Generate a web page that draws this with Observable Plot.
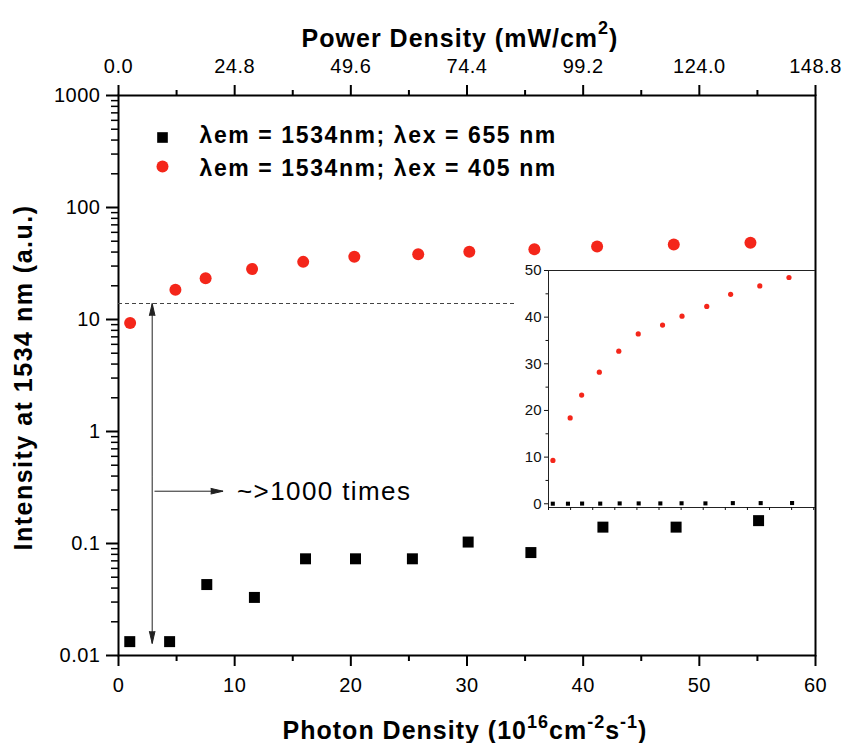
<!DOCTYPE html>
<html><head><meta charset="utf-8">
<script src="https://cdn.jsdelivr.net/npm/d3@7"></script>
<script src="https://cdn.jsdelivr.net/npm/@observablehq/plot@0.6"></script>
<style>
html,body{margin:0;padding:0;background:#fff;}
#chart{position:relative;width:842px;height:743px;overflow:hidden;}
#chart svg{position:absolute;left:0;top:0;}
</style></head><body><div id="chart"></div>
<script>
// ---------- data ----------
const photon655 = [0.97, 4.4, 7.6, 11.7, 16.1, 20.4, 25.3, 30.1, 35.5, 41.7, 48.0, 55.1];
const intensity655 = [0.0133, 0.0133, 0.043, 0.033, 0.073, 0.073, 0.073, 0.103, 0.083, 0.14, 0.14, 0.16];
const photon405 = [1.0, 4.9, 7.5, 11.5, 15.9, 20.3, 25.8, 30.2, 35.8, 41.2, 47.8, 54.4];
const intensity405 = [9.3, 18.4, 23.3, 28.2, 32.7, 36.4, 38.3, 40.2, 42.3, 44.9, 46.7, 48.5];
const seriesLabels = ["λem = 1534nm; λex = 655 nm", "λem = 1534nm; λex = 405 nm"];

const xTicks = [0, 10, 20, 30, 40, 50, 60];
const xMinorTicks = [5, 15, 25, 35, 45, 55];
const topTickLabels = ["0.0", "24.8", "49.6", "74.4", "99.2", "124.0", "148.8"];
const yTicks = [0.01, 0.1, 1, 10, 100, 1000];
const yTickLabels = ["0.01", "0.1", "1", "10", "100", "1000"];
const yMinorTicks = yTicks.slice(0, -1).flatMap(t => [2, 3, 4, 5, 6, 7, 8, 9].map(m => +(t * m).toPrecision(3)));
const insetYTicks = [0, 10, 20, 30, 40, 50];
const insetYMinorTicks = [5, 15, 25, 35, 45];
const insetXTicks = [0, 5, 10, 15, 20, 25, 30, 35, 40, 45, 50, 55, 60];

const topTitleParts = [["Power Density (mW/cm", 0], ["2", 1], [")", 0]];
const bottomTitleParts = [["Photon Density (10", 0], ["16", 1], ["cm", 0], ["-2", 1], ["s", 0], ["-1", 1], [")", 0]];
const leftTitle = "Intensity at 1534 nm (a.u.)";
const noteText = "~>1000 times";

// annotation values (data units)
const threshold = [{y: 13.9, x1: 0, x2: 34.2}];
const doubleArrow = [{x1: 2.9, y1: 0.4, x2: 2.9, y2: 13.9}, {x1: 2.9, y1: 0.4, x2: 2.9, y2: 0.0128}];
const noteArrow = [{x1: 3.1, y1: 0.293, x2: 9.0, y2: 0.293}];
const notePos = [{x: 10.2, y: 0.293, label: noteText}];

// ---------- tables ----------
const data655 = photon655.map((x, i) => ({x, y: intensity655[i]}));
const data405 = photon405.map((x, i) => ({x, y: intensity405[i]}));

const FONT = "'Liberation Sans', Arial, Helvetica, sans-serif";
const RED = "#f4261a";
const joinParts = p => p.map(d => d[0]).join("");
const topTitle = joinParts(topTitleParts);
const bottomTitle = joinParts(bottomTitleParts);

const main = Plot.plot({
  width: 842, height: 743,
  marginLeft: 118, marginRight: 27, marginTop: 95, marginBottom: 88,
  x: {domain: [0, 60]},
  y: {type: "log", domain: [0.01, 1000]},
  style: {fontFamily: FONT, fontSize: "20px", background: "white", color: "black"},
  marks: [
    // axes
    Plot.axisX({anchor: "bottom", ticks: xTicks, tickSize: 11, tickPadding: 11, strokeWidth: 2, label: null, fontSize: 20,
      tickFormat: d => String(d)}),
    Plot.axisX({anchor: "bottom", ticks: xMinorTicks, tickSize: 6, strokeWidth: 2, label: null, tickFormat: () => ""}),
    Plot.axisX({anchor: "top", ticks: xTicks, tickSize: 11, tickPadding: 12, strokeWidth: 2, label: null, fontSize: 20,
      tickFormat: d => topTickLabels[xTicks.indexOf(d)]}),
    Plot.axisX({anchor: "top", ticks: xMinorTicks, tickSize: 6, strokeWidth: 2, label: null, tickFormat: () => ""}),
    Plot.axisY({anchor: "left", ticks: yTicks, tickSize: 12, tickPadding: 6, strokeWidth: 2, label: null, fontSize: 20,
      tickFormat: d => yTickLabels[yTicks.indexOf(d)]}),
    Plot.axisY({anchor: "left", ticks: yMinorTicks, tickSize: 7, strokeWidth: 1.5, label: null, tickFormat: () => ""}),
    Plot.frame({strokeWidth: 2, stroke: "black"}),

    // annotations
    Plot.ruleY(threshold, {y: "y", x1: "x1", x2: "x2", stroke: "#444", strokeWidth: 1.2, strokeDasharray: "4,3"}),
    Plot.arrow(doubleArrow, {x1: "x1", y1: "y1", x2: "x2", y2: "y2", stroke: "#222", fill: "#222", strokeWidth: 1,
      headLength: 19, headAngle: 26, strokeLinecap: "butt"}),
    Plot.arrow(noteArrow, {x1: "x1", y1: "y1", x2: "x2", y2: "y2", stroke: "#222", fill: "#222", strokeWidth: 1,
      headLength: 19, headAngle: 26, strokeLinecap: "butt"}),
    Plot.text(notePos, {x: "x", y: "y", text: "label", textAnchor: "start", lineAnchor: "middle", fontSize: 26}),

    // data
    Plot.dot(data655, {x: "x", y: "y", symbol: "square", r: 6.2, fill: "black"}),
    Plot.dot(data405, {x: "x", y: "y", r: 6, fill: RED}),

    // legend
    Plot.dot([seriesLabels[0]], {frameAnchor: "top-left", dx: 44, dy: 42, symbol: "square", r: 6, fill: "black"}),
    Plot.dot([seriesLabels[1]], {frameAnchor: "top-left", dx: 44, dy: 71, r: 6, fill: RED}),
    Plot.text([seriesLabels[0]], {frameAnchor: "top-left", dx: 81, dy: 47.7, text: d => d, textAnchor: "start", lineAnchor: "bottom",
      fontWeight: "bold", fontSize: 23}),
    Plot.text([seriesLabels[1]], {frameAnchor: "top-left", dx: 81, dy: 80, text: d => d, textAnchor: "start", lineAnchor: "bottom",
      fontWeight: "bold", fontSize: 23}),

    // axis titles
    Plot.text([topTitle], {frameAnchor: "top", dx: -7, dy: -49, text: d => d, textAnchor: "middle", lineAnchor: "bottom",
      fontWeight: "bold", fontSize: 25}),
    Plot.text([bottomTitle], {frameAnchor: "bottom", dx: -2, dy: 83, text: d => d, textAnchor: "middle", lineAnchor: "bottom",
      fontWeight: "bold", fontSize: 25}),
    Plot.text([leftTitle], {frameAnchor: "left", dx: -95, dy: 2, text: d => d, rotate: -90, textAnchor: "middle", lineAnchor: "middle",
      fontWeight: "bold", fontSize: 25})
  ]
});

const inset = Plot.plot({
  width: 307, height: 257,
  marginLeft: 40, marginRight: 0, marginTop: 10, marginBottom: 10,
  x: {domain: [0, 60.4]},
  y: {domain: [-0.8, 50]},
  style: {fontFamily: FONT, fontSize: "15px", background: "transparent", color: "#111"},
  marks: [
    Plot.frame({stroke: "#222", strokeWidth: 1}),
    Plot.axisY({ticks: insetYTicks, tickSize: 4, tickPadding: 3, label: null, fontSize: 15, tickFormat: d => String(d)}),
    Plot.axisY({ticks: insetYMinorTicks, tickSize: 2.5, label: null, tickFormat: () => ""}),
    Plot.axisX({ticks: insetXTicks, tickSize: 3, label: null, tickFormat: () => ""}),
    Plot.dot(data655, {x: "x", y: "y", symbol: "square", r: 2.3, fill: "black"}),
    Plot.dot(data405, {x: "x", y: "y", r: 2.6, fill: RED})
  ]
});
inset.style.left = "508px";
inset.style.top = "260px";

const chart = document.getElementById("chart");
chart.appendChild(main);
chart.appendChild(inset);

// superscripts and letter spacing (select texts by content)
const svgSel = d3.select(main);
const byText = s => svgSel.selectAll("text").filter(function() { return this.textContent === s; });
function setParts(sel, parts, shift) {
  sel.each(function() {
    const t = d3.select(this);
    t.text(null);
    let up = false;
    parts.forEach(([s, sup]) => {
      const ts = t.append("tspan").text(s);
      if (sup) {
        ts.attr("font-size", "72%");
        if (!up) { ts.attr("dy", -shift); up = true; }
      } else if (up) { ts.attr("dy", shift); up = false; }
    });
  });
}
const topSel = byText(topTitle), bottomSel = byText(bottomTitle);
topSel.style("letter-spacing", "1px");
bottomSel.style("letter-spacing", "1px");
setParts(topSel, topTitleParts, 13);
setParts(bottomSel, bottomTitleParts, 11);
byText(leftTitle).style("letter-spacing", "1.5px");
seriesLabels.forEach(s => byText(s).style("letter-spacing", "1.6px"));
byText(noteText).style("letter-spacing", "1.4px");
svgSel.selectAll('g[aria-label="x-axis tick label"] text, g[aria-label="y-axis tick label"] text').style("letter-spacing", "0.5px");
</script>
</body></html>
